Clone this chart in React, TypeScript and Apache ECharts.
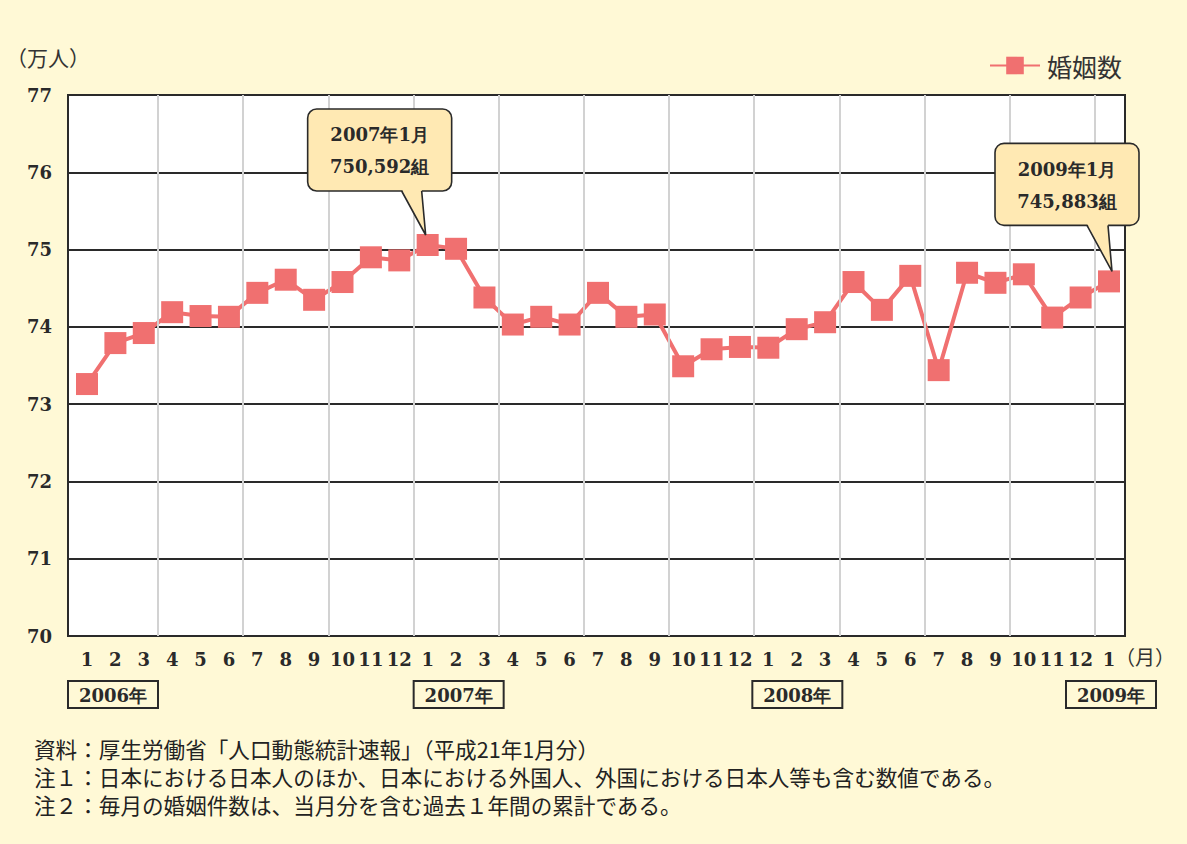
import React, { useEffect, useRef } from "react";
import * as echarts from "echarts";

// ---- data ----
const monthLabels = [
  "1", "2", "3", "4", "5", "6", "7", "8", "9", "10", "11", "12",
  "1", "2", "3", "4", "5", "6", "7", "8", "9", "10", "11", "12",
  "1", "2", "3", "4", "5", "6", "7", "8", "9", "10", "11", "12",
  "1",
];
// 婚姻数 (万人), 12-month cumulative
const marriages = [
  73.26, 73.79, 73.92, 74.19, 74.14, 74.13, 74.44, 74.61, 74.35, 74.58, 74.9, 74.86,
  75.0592, 75.01, 74.38, 74.03, 74.13, 74.03, 74.44, 74.13, 74.16, 73.49, 73.71, 73.74,
  73.73, 73.97, 74.06, 74.58, 74.22, 74.66, 73.44, 74.7, 74.57, 74.68, 74.12, 74.38,
  74.5883,
];
const yMin = 70;
const yMax = 77;
const yInterval = 1;
const quarterBoundaries = [2.5, 5.5, 8.5, 11.5, 14.5, 17.5, 20.5, 23.5, 26.5, 29.5, 32.5, 35.5];
const yearLabels = ["2006年", "2007年", "2008年", "2009年"];
const yearLabelIndex = [0, 12, 24, 36];
const calloutTitles = ["2007年1月", "2009年1月"];
const calloutValues = ["750,592組", "745,883組"];
const calloutIndex = [12, 36];
const seriesName = "婚姻数";
const yUnit = "（万人）";
const xUnit = "（月）";
const notes = [
  "資料：厚生労働省「人口動態統計速報」（平成21年1月分）",
  "注１：日本における日本人のほか、日本における外国人、外国における日本人等も含む数値である。",
  "注２：毎月の婚姻件数は、当月分を含む過去１年間の累計である。",
];

// ---- styles ----
const BG = "#FFF9D6";
const RED = "#F07070";
const DARK = "#2a2a2a";
const SERIF = "DejaVu Serif";
const SANS = "Noto Sans CJK JP";

export default function App() {
  const ref = useRef<HTMLDivElement>(null);

  useEffect(() => {
    if (!ref.current) return;
    const chart = echarts.init(ref.current, undefined, { renderer: "svg" });
    const option: any = {
      animation: false,
      backgroundColor: BG,
      grid: [
        { left: 68, right: 62, top: 95, bottom: 208, show: true, backgroundColor: "#fff", borderColor: DARK, borderWidth: 2 },
        { left: 87, right: 78, top: 95, bottom: 208 },
      ],
      xAxis: [
        { gridIndex: 0, type: "value", min: 0, max: 1, show: false },
        {
          gridIndex: 1,
          type: "value",
          min: 0,
          max: monthLabels.length - 1,
          interval: 1,
          axisLine: { show: false },
          axisTick: { show: false },
          splitLine: { show: false },
          axisLabel: {
            margin: 14,
            fontFamily: SERIF,
            fontWeight: "bold",
            fontSize: 18,
            color: DARK,
            formatter: (v: number) => monthLabels[Math.round(v)] ?? "",
          },
        },
      ],
      yAxis: [
        {
          gridIndex: 0,
          type: "value",
          min: yMin,
          max: yMax,
          interval: yInterval,
          axisLine: { show: false },
          axisTick: { show: false },
          splitLine: { show: true, lineStyle: { color: DARK, width: 1.8 } },
          axisLabel: { margin: 16, fontFamily: SERIF, fontWeight: "bold", fontSize: 18, color: DARK },
        },
        { gridIndex: 1, type: "value", min: yMin, max: yMax, interval: yInterval, show: false },
      ],
      legend: {
        data: [seriesName],
        left: 984,
        top: 48,
        itemWidth: 50,
        itemHeight: 22,
        itemGap: 10,
        textStyle: { fontFamily: SANS, fontSize: 25, color: "#333", padding: [0, 0, 0, 2] },
      },
      series: [
        {
          type: "line",
          name: "quarters",
          xAxisIndex: 1,
          yAxisIndex: 1,
          data: [],
          z: 1,
          silent: true,
          markLine: {
            silent: true,
            symbol: "none",
            label: { show: false },
            lineStyle: { color: "#d2d2d2", width: 2, type: "solid" },
            data: quarterBoundaries.map((x) => ({ xAxis: x })),
          },
        },
        {
          type: "line",
          name: seriesName,
          xAxisIndex: 1,
          yAxisIndex: 1,
          z: 3,
          data: marriages.map((v, i) => [i, v]),
          symbol: "rect",
          symbolSize: 22,
          itemStyle: { color: RED },
          lineStyle: { color: RED, width: 4 },
        },
      ],
    };
    chart.setOption(option);

    const px = (i: number) => chart.convertToPixel({ gridIndex: 1 } as any, [i, marriages[i]]) as number[];

    const graphics: any[] = [];
    graphics.push({
      type: "text",
      left: 6,
      top: 46,
      style: { text: yUnit, fontFamily: SANS, fontSize: 21, fill: "#333" },
    });
    const lastPt = px(monthLabels.length - 1);
    graphics.push({
      type: "text",
      x: lastPt[0] + 6,
      y: 646,
      style: { text: xUnit, fontFamily: SANS, fontSize: 20, fill: "#333" },
    });

    // year boxes
    const yearOffsets = [-19, -14, -16, -43];
    yearLabels.forEach((t, k) => {
      const p = px(yearLabelIndex[k]);
      const bx = p[0] + yearOffsets[k];
      graphics.push({
        type: "rect",
        shape: { x: bx, y: 681, width: 90, height: 27 },
        style: { fill: "none", stroke: DARK, lineWidth: 2 },
      });
      graphics.push({
        type: "text",
        x: bx + 45,
        y: 695,
        style: { text: t, fontFamily: SERIF, fontSize: 18, fontWeight: "bold", fill: DARK, align: "center", verticalAlign: "middle" },
      });
    });

    // callouts
    const calloutGeo = [
      { dx: -120, dy: -136, tailL: -26, tailR: -6, tipX: -2 },
      { dx: -114, dy: -138, tailL: -22, tailR: -1, tipX: 3 },
    ];
    calloutIndex.forEach((idx, k) => {
      const p = px(idx);
      const g = calloutGeo[k];
      const bx = p[0] + g.dx;
      const by = p[1] + g.dy;
      const w = 144;
      const h = 82;
      const fill = "#FFE9B3";
      const tip = [p[0] + g.tipX, p[1] - 10];
      graphics.push({
        type: "rect",
        z: 100,
        shape: { x: bx, y: by, width: w, height: h, r: 9 },
        style: { fill, stroke: DARK, lineWidth: 1.6 },
      });
      graphics.push({
        type: "polygon",
        z: 101,
        shape: { points: [[p[0] + g.tailL, by + h - 2], [p[0] + g.tailR, by + h - 2], tip] },
        style: { fill },
      });
      graphics.push({
        type: "polyline",
        z: 102,
        shape: { points: [[p[0] + g.tailL, by + h], tip, [p[0] + g.tailR, by + h]] },
        style: { fill: "none", stroke: DARK, lineWidth: 1.6 },
      });
      [calloutTitles[k], calloutValues[k]].forEach((t, j) => {
        graphics.push({
          type: "text",
          z: 103,
          x: bx + w / 2,
          y: by + 26 + j * 32,
          style: { text: t, fontFamily: SERIF, fontWeight: "bold", fontSize: 18, fill: DARK, align: "center", verticalAlign: "middle" },
        });
      });
    });

    // notes
    notes.forEach((t, i) => {
      graphics.push({
        type: "text",
        x: 34,
        y: 748 + i * 28,
        style: { text: t, fontFamily: SANS, fontSize: 21.6, fill: "#222", verticalAlign: "middle" },
      });
    });

    chart.setOption({ graphic: graphics });

    return () => chart.dispose();
  }, []);

  return (
    <div
      ref={ref}
      style={{ position: "absolute", left: 0, top: 0, width: 1187, height: 844 }}
    />
  );
}
